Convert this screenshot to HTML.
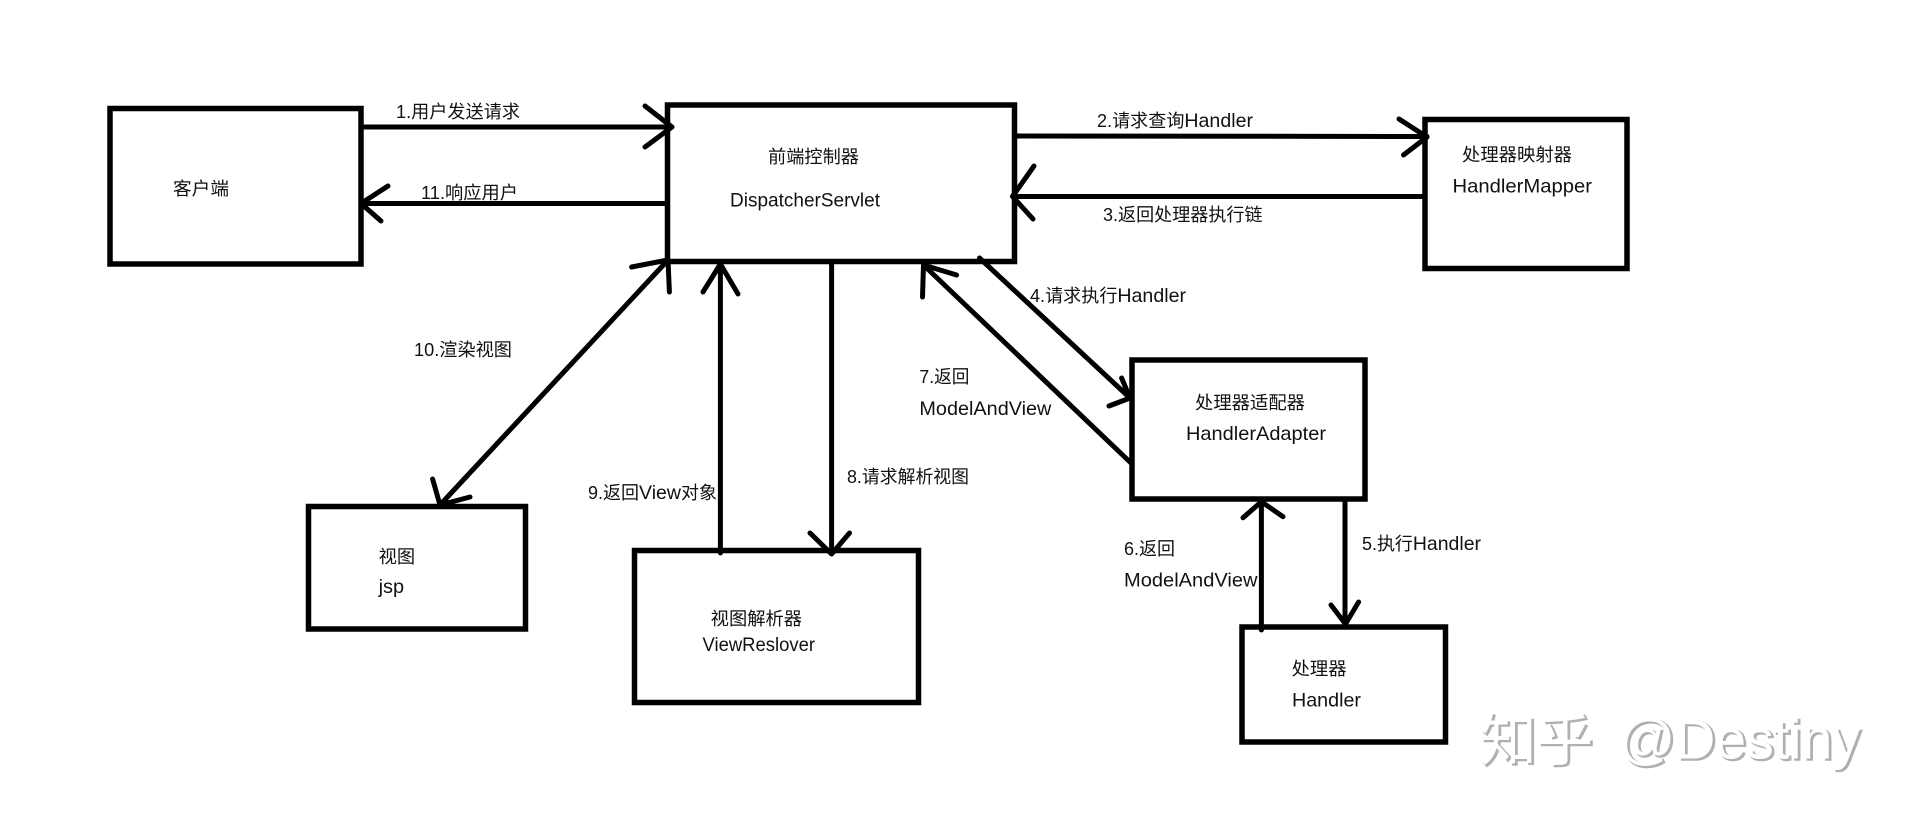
<!DOCTYPE html>
<html lang="zh"><head><meta charset="utf-8"><title>SpringMVC</title>
<style>html,body{margin:0;padding:0;background:#fff}svg{display:block}
text{font-family:"Liberation Sans","Noto Sans CJK SC",sans-serif;font-size:18px;fill:#111}
.l{font-size:19.5px}
.w{font-size:56px;fill:#b0b0b0;stroke:#b0b0b0;stroke-width:1.5px}
.c{font-size:56px;fill:#fff}</style></head><body>
<svg width="1911" height="826" viewBox="0 0 1911 826" xmlns="http://www.w3.org/2000/svg">
<rect width="1911" height="826" fill="#fff"/>
<g fill="none" stroke="#000" stroke-width="5.5">
<rect x="110" y="108.5" width="251" height="155.5"/>
<rect x="667.5" y="105" width="347" height="156.5"/>
<rect x="1425" y="119.5" width="202" height="149"/>
<rect x="1132" y="360" width="233" height="139"/>
<rect x="308.5" y="506.5" width="217" height="122.5"/>
<rect x="634.5" y="550.5" width="284" height="152"/>
<rect x="1242" y="627" width="203.5" height="115"/>
</g>
<g fill="none" stroke="#000" stroke-width="5" stroke-linecap="round" stroke-linejoin="round">
<path d="M363 127H672M645 106L672 127L645 147"/>
<path d="M665 203.5H361M388 186L361 203.5L381 221"/>
<path d="M1017 136L1427 136.500M1399 119L1427 137L1403.500 155"/>
<path d="M1422 196.500H1012.500M1034 166L1012.500 196.500L1033 219"/>
<path d="M979.500 258L1130 398M1121.600 378L1130 398L1109 406"/>
<path d="M1131 463L923.500 265M922.500 297L923.500 265L956.600 275"/>
<path d="M668 260L440 505M631.600 267L668 260L669.400 292M432.600 479L440 505L470 497"/>
<path d="M720.400 553V264M703 292L720.400 264L738 294"/>
<path d="M831.600 264V554M810 533L831.600 554L849.500 533"/>
<path d="M1261.400 630V501.700M1243 517.700L1261.400 501.700L1283 516.700"/>
<path d="M1345 502V624M1331 605L1345.500 624L1358.600 602"/>
</g>
<text x="173" y="195" textLength="56" lengthAdjust="spacingAndGlyphs">客户端</text>
<text x="396" y="118" textLength="124" lengthAdjust="spacingAndGlyphs">1.用户发送请求</text>
<text x="421" y="199" textLength="97" lengthAdjust="spacingAndGlyphs">11.响应用户</text>
<text x="768" y="163" textLength="91" lengthAdjust="spacingAndGlyphs">前端控制器</text>
<text class="l" x="730" y="206.500" textLength="150" lengthAdjust="spacingAndGlyphs">DispatcherServlet</text>
<text x="414" y="356" textLength="98" lengthAdjust="spacingAndGlyphs">10.渲染视图</text>
<text x="1097" y="127" textLength="156" lengthAdjust="spacingAndGlyphs">2.请求查询<tspan class="l">Handler</tspan></text>
<text x="1103" y="221" textLength="159.500" lengthAdjust="spacingAndGlyphs">3.返回处理器执行链</text>
<text x="1462" y="161" textLength="110" lengthAdjust="spacingAndGlyphs">处理器映射器</text>
<text class="l" x="1452.500" y="192.700" textLength="139.500" lengthAdjust="spacingAndGlyphs">HandlerMapper</text>
<text x="1030" y="302" textLength="156" lengthAdjust="spacingAndGlyphs">4.请求执行<tspan class="l">Handler</tspan></text>
<text x="1195" y="409" textLength="110" lengthAdjust="spacingAndGlyphs">处理器适配器</text>
<text class="l" x="1186" y="440" textLength="140" lengthAdjust="spacingAndGlyphs">HandlerAdapter</text>
<text x="919.400" y="383" textLength="50" lengthAdjust="spacingAndGlyphs">7.返回</text>
<text class="l" x="919.400" y="415" textLength="132" lengthAdjust="spacingAndGlyphs">ModelAndView</text>
<text x="588" y="499" textLength="129" lengthAdjust="spacingAndGlyphs">9.返回<tspan class="l">View</tspan>对象</text>
<text x="847" y="483" textLength="122" lengthAdjust="spacingAndGlyphs">8.请求解析视图</text>
<text x="378.600" y="563" textLength="36.500" lengthAdjust="spacingAndGlyphs">视图</text>
<text class="l" x="378.600" y="593" textLength="25.500" lengthAdjust="spacingAndGlyphs">jsp</text>
<text x="710.700" y="625" textLength="91.300" lengthAdjust="spacingAndGlyphs">视图解析器</text>
<text class="l" x="702.500" y="651" textLength="112.500" lengthAdjust="spacingAndGlyphs">ViewReslover</text>
<text x="1124" y="555" textLength="51" lengthAdjust="spacingAndGlyphs">6.返回</text>
<text class="l" x="1124" y="586.700" textLength="133.500" lengthAdjust="spacingAndGlyphs">ModelAndView</text>
<text x="1362" y="550" textLength="119" lengthAdjust="spacingAndGlyphs">5.执行<tspan class="l">Handler</tspan></text>
<text x="1291.600" y="675" textLength="55" lengthAdjust="spacingAndGlyphs">处理器</text>
<text class="l" x="1292" y="706.700" textLength="69" lengthAdjust="spacingAndGlyphs">Handler</text>
<text class="w" x="1482" y="762" textLength="113" lengthAdjust="spacingAndGlyphs">知乎</text>
<text class="w" x="1621" y="760" textLength="241" lengthAdjust="spacingAndGlyphs">@Destiny</text>
<text class="c" x="1480" y="760.500" textLength="113" lengthAdjust="spacingAndGlyphs">知乎</text>
<text class="c" x="1619" y="758.500" textLength="241" lengthAdjust="spacingAndGlyphs">@Destiny</text>
</svg>
</body></html>
